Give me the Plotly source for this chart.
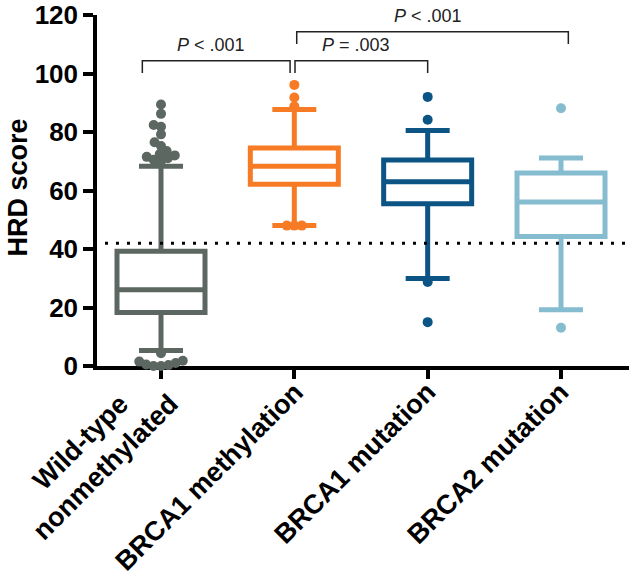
import math
import plotly.graph_objects as go

# ---------------- data ----------------
categories = ["Wild-type<br>nonmethylated", "BRCA1 methylation", "BRCA1 mutation", "BRCA2 mutation"]
q1 = [18.3, 62.1, 55.5, 44.3]
median = [26.1, 68.3, 63.0, 56.1]
q3 = [39.2, 74.5, 70.4, 66.0]
lower_whisker = [5.3, 48.0, 29.9, 19.2]
upper_whisker = [68.3, 87.7, 80.5, 71.1]

outliers_wildtype = [89.4, 86.2, 82.4, 81.8, 79.2, 76.5, 75.2, 73.5, 72.5, 72.0, 71.5, 71.0, 70.5, 70.0,
                     4.4, 1.8, 1.5, 1.0, 0.5, 0.3, 0.0, 0.0]
outliers_brca1_meth = [96.1, 91.8, 88.8, 48.0, 48.0, 48.0]
outliers_brca1_mut = [92.0, 84.2, 28.7, 15.0]
outliers_brca2_mut = [88.1, 13.1]
outliers = [outliers_wildtype, outliers_brca1_meth, outliers_brca1_mut, outliers_brca2_mut]

threshold = 42
y_ticks = [0, 20, 40, 60, 80, 100, 120]
y_title = "HRD score"
comparison_labels = ["<i>P</i> < .001", "<i>P</i> = .003", "<i>P</i> < .001"]

# ---------------- style / layout ----------------
colors = ["#5c6762", "#f77b25", "#0c5483", "#86bccf"]
W, H = 629, 576
ML, MR, MT, MB = 97, 0, 11, 210
XR = [-0.48, 3.51]
YR = [0, 120]
px_per_x = (W - ML - MR) / (XR[1] - XR[0])
px_per_y = (H - MT - MB) / (YR[1] - YR[0])

# bracket geometry (annotation decoration)
bracket_x0 = [-0.14, 1.005, 1.018]
bracket_x1 = [0.968, 2.0, 3.055]
bracket_top = [104.4, 104.4, 114.3]
bracket_drop = 4.2

# category label nudges (px)
label_xshift = [26, 17, 17, 17]
label_yshift = [5, -8, -8, -8]

FONT = "Liberation Sans, Arial, Helvetica, sans-serif"


def swarm_offsets(values, diameter):
    placed = []
    offs = [0.0] * len(values)
    order = sorted(range(len(values)), key=lambda i: values[i])
    for i in order:
        y = values[i] * px_per_y
        cands = [0.0]
        for (px, py) in placed:
            dy = y - py
            if abs(dy) < diameter:
                dx = math.sqrt(diameter ** 2 - dy ** 2)
                cands += [px + dx, px - dx]
        cands.sort(key=lambda c: (abs(c), c))
        chosen = cands[-1]
        for c in cands:
            if all((c - px) ** 2 + (y - py) ** 2 >= diameter ** 2 - 1e-6 for px, py in placed):
                chosen = c
                break
        placed.append((chosen, y))
        offs[i] = chosen / px_per_x
    return offs


fig = go.Figure()

for i, name in enumerate(categories):
    fig.add_trace(go.Box(
        x=[i], q1=[q1[i]], median=[median[i]], q3=[q3[i]],
        lowerfence=[lower_whisker[i]], upperfence=[upper_whisker[i]],
        width=0.66, whiskerwidth=0.5,
        fillcolor="white", line=dict(color=colors[i], width=5),
        boxpoints=False, showlegend=False, hoverinfo="skip",
    ))

for i, vals in enumerate(outliers):
    offs = swarm_offsets(vals, 7.5)
    fig.add_trace(go.Scatter(
        x=[i + o for o in offs], y=vals, mode="markers",
        marker=dict(size=10, color=colors[i], line=dict(width=0)),
        cliponaxis=False, showlegend=False, hoverinfo="skip",
    ))

shapes = [dict(type="line", xref="paper", yref="y", x0=0.015, x1=1, y0=threshold, y1=threshold,
               line=dict(color="black", width=3, dash="3px,8px"), layer="above")]
annotations = []
for k in range(3):
    x0, x1, top = bracket_x0[k], bracket_x1[k], bracket_top[k]
    shapes.append(dict(type="path", xref="x", yref="y",
                       path=f"M {x0},{top - bracket_drop} L {x0},{top} L {x1},{top} L {x1},{top - bracket_drop}",
                       line=dict(color="#222222", width=1.5)))
    annotations.append(dict(x=(x0 + x1) / 2, y=top, xref="x", yref="y", text=comparison_labels[k],
                            showarrow=False, xanchor="center", yanchor="bottom", xshift=-5, yshift=4,
                            font=dict(family=FONT, size=18, color="#222222")))

for i, name in enumerate(categories):
    annotations.append(dict(x=i, y=0, xref="x", yref="y", text=name, showarrow=False,
                            textangle=-45, xanchor="right", yanchor="top", align="center",
                            xshift=label_xshift[i], yshift=label_yshift[i],
                            font=dict(family=FONT, size=27, color="black", weight="bold")))

# y-axis title
annotations.append(dict(x=0, y=0.5, xref="paper", yref="paper", text=y_title, showarrow=False,
                        textangle=-90, xanchor="center", yanchor="middle", xshift=-80, yshift=3,
                        borderpad=0,
                        font=dict(family=FONT, size=27, color="black", weight="bold")))

fig.update_layout(
    width=W, height=H, margin=dict(l=ML, r=MR, t=MT, b=MB, pad=0),
    plot_bgcolor="white", paper_bgcolor="white",
    boxmode="overlay", shapes=shapes, annotations=annotations,
    font=dict(family=FONT, color="black"),
)
fig.update_xaxes(range=XR, tickvals=[0, 1, 2, 3], showticklabels=False, ticks="outside",
                 ticklen=9, tickwidth=3.5, tickcolor="black", showline=True, linewidth=3.5,
                 linecolor="black", showgrid=False, zeroline=False, layer="below traces")
fig.update_yaxes(range=YR, tickvals=y_ticks, ticks="outside", ticklen=10, tickwidth=3.5,
                 tickcolor="black", showline=True, linewidth=3.5, linecolor="black",
                 showgrid=False, zeroline=False, layer="below traces", ticklabeloverflow="allow",
                 tickfont=dict(family=FONT, size=26, color="black", weight="bold"))

fig.write_html("out.html", config={"displayModeBar": False},
               post_script="document.body.style.margin='0';")
